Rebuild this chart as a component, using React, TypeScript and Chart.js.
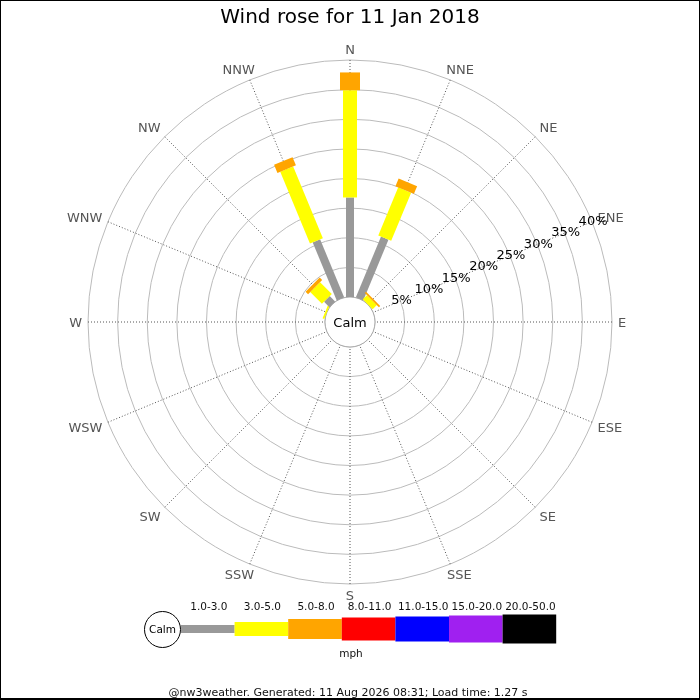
import React, { useEffect, useRef } from "react";
import { Chart, registerables } from "chart.js";

Chart.register(...registerables);

// ---------- text ----------
const TITLE = "Wind rose for 11 Jan 2018";
const FOOTER = "@nw3weather. Generated: 11 Aug 2026 08:31; Load time: 1.27 s";
const UNIT = "mph";
const CALM_LABEL = "Calm";

// ---------- categories ----------
const DIRECTIONS = ["N", "NNE", "NE", "ENE", "E", "ESE", "SE", "SSE", "S", "SSW", "SW", "WSW", "W", "WNW", "NW", "NNW"];
const SPEED_BINS = ["1.0-3.0", "3.0-5.0", "5.0-8.0", "8.0-11.0", "11.0-15.0", "15.0-20.0", "20.0-50.0"];

// ---------- series: % of time per direction (N ... NNW) ----------
const BIN_1_3 = [16.8, 11.1, 0, 0, 0, 0, 0, 0, 0, 0, 0, 0, 0, 0, 1.3, 10.6];
const BIN_3_5 = [18.1, 8.8, 1.0, 0, 0, 0, 0, 0, 0, 0, 0, 0, 0, 0.3, 2.8, 13.1];
const BIN_5_8 = [3.0, 1.4, 0.3, 0, 0, 0, 0, 0, 0, 0, 0, 0, 0, 0, 0.6, 1.5];
const BIN_8_11 = [0, 0, 0, 0, 0, 0, 0, 0, 0, 0, 0, 0, 0, 0, 0, 0];
const BIN_11_15 = [0, 0, 0, 0, 0, 0, 0, 0, 0, 0, 0, 0, 0, 0, 0, 0];
const BIN_15_20 = [0, 0, 0, 0, 0, 0, 0, 0, 0, 0, 0, 0, 0, 0, 0, 0];
const BIN_20_50 = [0, 0, 0, 0, 0, 0, 0, 0, 0, 0, 0, 0, 0, 0, 0, 0];

// ---------- ticks ----------
const RING_TICKS = [5, 10, 15, 20, 25, 30, 35, 40];
const TICK_LABEL_DIRECTION = "ENE";

// ---------- styles ----------
const BIN_COLORS = ["#999999", "#ffff00", "#ffa500", "#ff0000", "#0000ff", "#a020f0", "#000000"];
const BIN_THICKNESS = [8, 14, 20, 23, 25, 27, 29];
const FONT = "'DejaVu Sans', 'Liberation Sans', sans-serif";
const CALM_HOLE = 4.22; // size of the calm hole, in % units of the radial scale
const LABEL_GAP = 6;
const CAP_H = 9.5;

const BIN_VALUES = [BIN_1_3, BIN_3_5, BIN_5_8, BIN_8_11, BIN_11_15, BIN_15_20, BIN_20_50];

const clampUnit = (v: number) => Math.sign(v) * Math.min(1, Math.abs(v) / 0.7);

const roseBarsPlugin = {
  id: "roseBars",
  beforeDatasetsDraw(chart: any) {
    const scale = chart.scales.r;
    const ctx = chart.ctx;
    // calm circle
    const rc = scale.getDistanceFromCenterForValue(0);
    ctx.save();
    ctx.beginPath();
    ctx.arc(scale.xCenter, scale.yCenter, rc, 0, Math.PI * 2);
    ctx.fillStyle = "#ffffff";
    ctx.fill();
    ctx.lineWidth = 1;
    ctx.strokeStyle = "#aaaaaa";
    ctx.stroke();
    ctx.fillStyle = "#000000";
    ctx.font = `13px ${FONT}`;
    ctx.textAlign = "center";
    ctx.textBaseline = "alphabetic";
    ctx.fillText(CALM_LABEL, scale.xCenter, scale.yCenter + 5);
    ctx.restore();

    // stacked radial bars
    const datasets = chart.data.datasets;
    const labels = chart.data.labels;
    for (let i = 0; i < labels.length; i++) {
      let cum = 0;
      const angle = scale.getIndexAngle(i);
      for (let k = 0; k < datasets.length; k++) {
        const v = datasets[k].data[i] || 0;
        if (v <= 0) continue;
        const r0 = scale.getDistanceFromCenterForValue(cum);
        const r1 = scale.getDistanceFromCenterForValue(cum + v);
        cum += v;
        const w = BIN_THICKNESS[k];
        ctx.save();
        ctx.translate(scale.xCenter, scale.yCenter);
        ctx.rotate(angle);
        ctx.fillStyle = datasets[k].backgroundColor;
        ctx.fillRect(-w / 2, -r1, w, r1 - r0);
        ctx.restore();
      }
    }
  },
  afterDatasetsDraw(chart: any) {
    const scale = chart.scales.r;
    const ctx = chart.ctx;
    ctx.save();
    // compass labels
    ctx.font = `13px ${FONT}`;
    ctx.fillStyle = "#555555";
    ctx.textAlign = "center";
    ctx.textBaseline = "alphabetic";
    const R = scale.drawingArea;
    (chart.data.labels as string[]).forEach((lab, i) => {
      const a = scale.getIndexAngle(i);
      const w = ctx.measureText(lab).width;
      const p = scale.getPointPosition(i, R + LABEL_GAP);
      const x = p.x + (w / 2) * clampUnit(Math.sin(a));
      const y = p.y - (CAP_H / 2) * clampUnit(Math.cos(a));
      ctx.fillText(lab, x, y + CAP_H / 2);
    });
    // ring labels
    const idx = DIRECTIONS.indexOf(TICK_LABEL_DIRECTION);
    ctx.fillStyle = "#000000";
    ctx.textBaseline = "middle";
    RING_TICKS.forEach((v) => {
      const p = scale.getPointPositionForValue(idx, v);
      ctx.fillText(`${v}%`, p.x + 1, p.y);
    });
    ctx.restore();
  },
  afterDraw(chart: any) {
    const ctx = chart.ctx;
    ctx.save();
    // speed legend
    const x0 = 181;
    const segW = 53.6;
    const cy = 629;
    ctx.beginPath();
    ctx.arc(162.5, 629.5, 18, 0, Math.PI * 2);
    ctx.fillStyle = "#ffffff";
    ctx.fill();
    ctx.strokeStyle = "#000000";
    ctx.lineWidth = 1;
    ctx.stroke();
    ctx.fillStyle = "#000000";
    ctx.font = `10.5px ${FONT}`;
    ctx.textAlign = "center";
    ctx.textBaseline = "middle";
    ctx.fillText(CALM_LABEL, 162.5, 630);
    SPEED_BINS.forEach((lab, k) => {
      const h = BIN_THICKNESS[k];
      ctx.fillStyle = BIN_COLORS[k];
      ctx.fillRect(x0 + k * segW, cy - h / 2, segW, h);
      ctx.fillStyle = "#111111";
      ctx.fillText(lab, x0 + (k + 0.5) * segW + 1, 607);
    });
    ctx.fillText(UNIT, 351, 654);
    ctx.font = `11px ${FONT}`;
    ctx.fillText(FOOTER, 348, 693);
    // frame
    ctx.strokeStyle = "#000000";
    ctx.lineWidth = 2;
    ctx.strokeRect(0, 0, chart.width, chart.height);
    ctx.fillStyle = "#000000";
    ctx.fillRect(0, chart.height - 2, chart.width, 2);
    ctx.restore();
  },
};

export default function App() {
  const ref = useRef<HTMLCanvasElement | null>(null);

  useEffect(() => {
    if (!ref.current) return;
    const chart = new Chart(ref.current, {
      type: "radar",
      data: {
        labels: DIRECTIONS,
        datasets: SPEED_BINS.map((label, k) => ({
          label,
          data: BIN_VALUES[k],
          backgroundColor: BIN_COLORS[k],
          borderColor: BIN_COLORS[k],
          borderWidth: 0,
          showLine: false,
          pointRadius: 0,
          pointHoverRadius: 0,
          fill: false,
        })),
      },
      options: {
        animation: false,
        responsive: false,
        maintainAspectRatio: false,
        events: [],
        layout: { padding: { left: 88, right: 88, top: 0, bottom: 116 } },
        plugins: {
          legend: { display: false },
          tooltip: { enabled: false },
          title: {
            display: true,
            text: TITLE,
            color: "#000000",
            font: { family: FONT, size: 20, weight: "normal" },
            padding: { top: 6, bottom: 30 },
          },
        },
        scales: {
          r: {
            min: -CALM_HOLE,
            max: 40,
            startAngle: 0,
            afterBuildTicks: (scale: any) => {
              scale.ticks = [0, ...RING_TICKS].map((v) => ({ value: v }));
            },
            ticks: { display: false },
            grid: { circular: true, color: "#bbbbbb", lineWidth: 1 },
            angleLines: { display: true, color: "#555555", lineWidth: 1, borderDash: [1, 2] },
            pointLabels: { display: false },
          },
        },
      } as any,
      plugins: [roseBarsPlugin],
    });
    return () => chart.destroy();
  }, []);

  return (
    <div style={{ position: "absolute", left: 0, top: 0, width: 700, height: 700, background: "#ffffff" }}>
      <canvas ref={ref} width={700} height={700} style={{ display: "block", width: 700, height: 700 }} />
    </div>
  );
}
